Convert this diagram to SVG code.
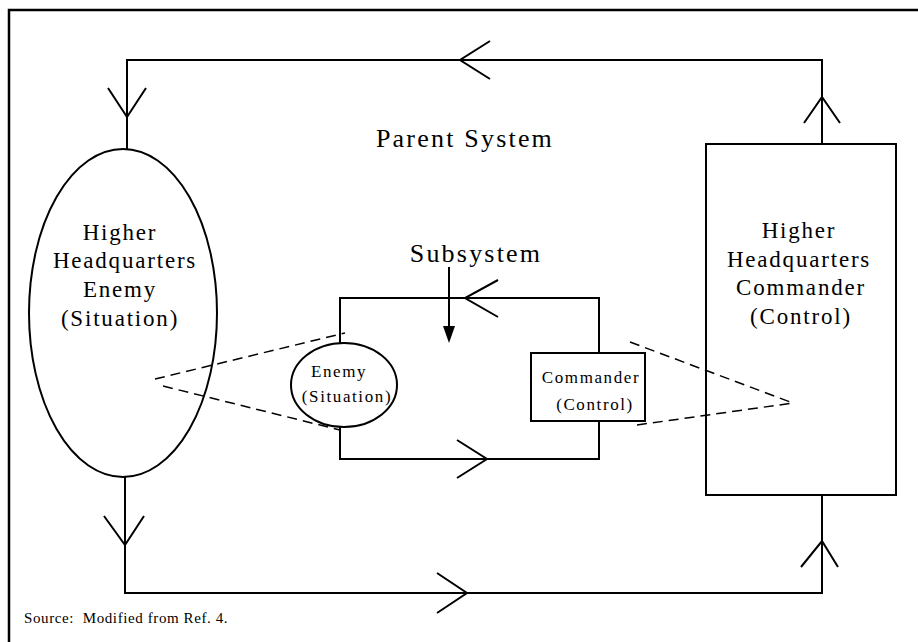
<svg xmlns="http://www.w3.org/2000/svg" width="918" height="642" viewBox="0 0 918 642">
<style>
.ln{fill:none;stroke:#000;stroke-width:2;stroke-linejoin:miter}
.ds{fill:none;stroke:#000;stroke-width:1.5;stroke-dasharray:10 6}
.sh{fill:none;stroke:#000;stroke-width:2}
text{font-family:"Liberation Serif","Times New Roman",serif;fill:#000;text-anchor:middle}
.big{font-size:23px;letter-spacing:1.8px}
.ttl{font-size:26px;letter-spacing:2.2px}
.sm{font-size:17px;letter-spacing:1.6px}
</style>
<rect width="918" height="642" fill="#fff"/>
<path d="M9,642 V10 H918" fill="none" stroke="#000" stroke-width="2.5"/>
<g id="connectors">
  <path class="ln" d="M127,150 V60 H822 V144"/>
  <path class="ln" d="M125,477 V593 H822 V495"/>
  <polyline class="ln" points="490,41 460,60 490,79"/>
  <polyline class="ln" points="108,88 127,117 146,88"/>
  <polyline class="ln" points="804,123 822,97 840,123"/>
  <polyline class="ln" points="104,516 125,545 144,516"/>
  <polyline class="ln" points="437,573 467,593 437,613"/>
  <polyline class="ln" points="801,567 822,541 838,567"/>
  <path class="ln" d="M340,343 V298 H599 V353"/>
  <path class="ln" d="M340,427 V459 H599 V421"/>
  <polyline class="ln" points="498,280 465,298 498,317"/>
  <polyline class="ln" points="457,440 487,459 457,478"/>
  <line class="ln" x1="449" y1="267" x2="449" y2="330"/>
  <polygon points="443,326 455,326 449,343" fill="#000"/>
  <line class="ds" x1="155" y1="379" x2="345" y2="333"/>
  <line class="ds" x1="163" y1="386" x2="340" y2="430"/>
  <line class="ds" x1="630" y1="342" x2="793" y2="403"/>
  <line class="ds" x1="637" y1="425" x2="793" y2="403"/>
</g>
<g id="parent-label">
  <text class="ttl" x="465" y="147">Parent System</text>
</g>
<g id="subsystem-label">
  <text class="ttl" x="476" y="262">Subsystem</text>
</g>
<g id="hq-enemy">
  <ellipse class="sh" cx="123" cy="313" rx="94" ry="164"/>
  <text class="big" x="120" y="240">Higher</text>
  <text class="big" x="125" y="268">Headquarters</text>
  <text class="big" x="120" y="297">Enemy</text>
  <text class="big" x="120" y="326">(Situation)</text>
</g>
<g id="hq-commander">
  <rect class="sh" x="706" y="144" width="190" height="351"/>
  <text class="big" x="799" y="238">Higher</text>
  <text class="big" x="799" y="267">Headquarters</text>
  <text class="big" x="801" y="295">Commander</text>
  <text class="big" x="801" y="324">(Control)</text>
</g>
<g id="enemy">
  <ellipse class="sh" cx="344" cy="385" rx="53" ry="42"/>
  <text class="sm" x="339" y="377">Enemy</text>
  <text class="sm" x="347" y="402">(Situation)</text>
</g>
<g id="commander">
  <rect class="sh" x="531" y="353" width="114" height="68"/>
  <text class="sm" x="591" y="383">Commander</text>
  <text class="sm" x="595" y="410">(Control)</text>
</g>
<g id="source">
  <text x="24" y="623" style="text-anchor:start;font-size:15px;letter-spacing:0.6px;white-space:pre" xml:space="preserve">Source:  Modified from Ref. 4.</text>
</g>
</svg>
